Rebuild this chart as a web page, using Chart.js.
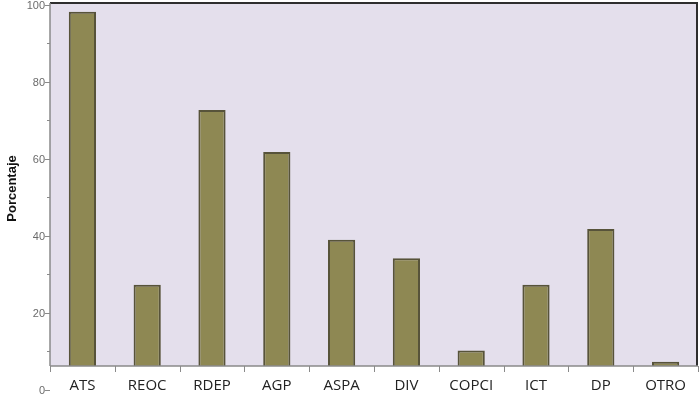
<!DOCTYPE html>
<html>
<head>
<meta charset="utf-8">
<script src="https://cdn.jsdelivr.net/npm/chart.js@4/dist/chart.umd.min.js"></script>
<style>
html,body{margin:0;padding:0;background:#fff;}
#wrap{width:700px;height:406px;position:relative;}
</style>
</head>
<body>
<div id="wrap"><canvas id="c" width="700" height="406"></canvas></div>
<script>
const categories = ["ATS","REOC","RDEP","AGP","ASPA","DIV","COPCI","ICT","DP","OTRO"];
const percentages = [98.2, 27.3, 72.7, 61.8, 39.0, 34.2, 10.2, 27.3, 41.8, 7.3];
const yTickLabels = [0, 20, 40, 60, 80, 100];
const minorTicks = [10, 30, 50, 70, 90];
const axisTitle = "Porcentaje";

const plotBg = {
  id: 'plotBg',
  beforeDraw(chart) {
    const {ctx, chartArea: a} = chart;
    ctx.save();
    ctx.fillStyle = '#E4DFEC';
    ctx.fillRect(a.left, a.top, a.right - a.left, a.bottom - a.top);
    ctx.restore();
  },
  afterDraw(chart) {
    const {ctx, chartArea: a} = chart;
    const y = chart.scales.y;
    ctx.save();
    // top and right dark frame
    ctx.strokeStyle = '#2e2e2e';
    ctx.lineWidth = 2;
    ctx.beginPath();
    ctx.moveTo(a.left, a.top);
    ctx.lineTo(a.right - 1, a.top);
    ctx.lineTo(a.right - 1, a.bottom);
    ctx.stroke();
    // left axis and ticks
    ctx.strokeStyle = '#8a8a8a';
    ctx.lineWidth = 1.5;
    ctx.beginPath();
    ctx.moveTo(a.left, a.top);
    ctx.lineTo(a.left, a.bottom);
    ctx.stroke();
    ctx.lineWidth = 1;
    ctx.font = '11px "Liberation Sans", Arial, sans-serif';
    ctx.fillStyle = '#6b6b6b';
    ctx.textAlign = 'right';
    ctx.textBaseline = 'middle';
    yTickLabels.forEach(v => {
      const py = Math.round(y.getPixelForValue(v)) + 0.5;
      ctx.beginPath();
      ctx.moveTo(a.left - 5, py);
      ctx.lineTo(a.left, py);
      ctx.stroke();
      ctx.fillText(String(v), a.left - 5, py);
    });
    minorTicks.forEach(v => {
      const py = Math.round(y.getPixelForValue(v)) + 0.5;
      ctx.beginPath();
      ctx.moveTo(a.left - 3, py);
      ctx.lineTo(a.left, py);
      ctx.stroke();
    });
    // bottom axis with ticks at category boundaries
    ctx.strokeStyle = '#8a8a8a';
    ctx.lineWidth = 1.5;
    ctx.beginPath();
    ctx.moveTo(a.left, a.bottom);
    ctx.lineTo(a.right, a.bottom);
    ctx.stroke();
    ctx.lineWidth = 1;
    const step = (a.right - a.left) / categories.length;
    for (let i = 0; i <= categories.length; i++) {
      const px = Math.round(a.left + i * step) + 0.5;
      ctx.beginPath();
      ctx.moveTo(px, a.bottom);
      ctx.lineTo(px, a.bottom + 6);
      ctx.stroke();
    }
    // axis title
    ctx.translate(12, (a.top + a.bottom) / 2 + 4);
    ctx.rotate(-Math.PI / 2);
    ctx.font = 'bold 13px "Liberation Sans", Arial, sans-serif';
    ctx.fillStyle = '#111';
    ctx.textAlign = 'center';
    ctx.textBaseline = 'middle';
    ctx.fillText(axisTitle, 0, 0);
    ctx.restore();
  }
};

new Chart(document.getElementById('c'), {
  type: 'bar',
  data: {
    labels: categories,
    datasets: [{
      data: percentages,
      backgroundColor: '#8E8853',
      borderColor: '#57533A',
      borderWidth: 2,
      borderSkipped: false,
      categoryPercentage: 1.0,
      barPercentage: 0.42
    }]
  },
  options: {
    responsive: false,
    animation: false,
    layout: { padding: { left: 50, top: 3, right: 2, bottom: 0 } },
    plugins: { legend: { display: false }, tooltip: { enabled: false } },
    scales: {
      x: {
        grid: { display: false, drawTicks: false },
        border: { display: false },
        ticks: {
          color: '#222',
          font: { family: '"Open Sans", "Liberation Sans", sans-serif', size: 15 },
          padding: 11,
          maxRotation: 0
        }
      },
      y: {
        min: 6.2,
        max: 100.5,
        display: true,
        grid: { display: false, drawTicks: false },
        border: { display: false },
        ticks: { display: false }
      }
    }
  },
  plugins: [plotBg]
});
</script>
</body>
</html>
